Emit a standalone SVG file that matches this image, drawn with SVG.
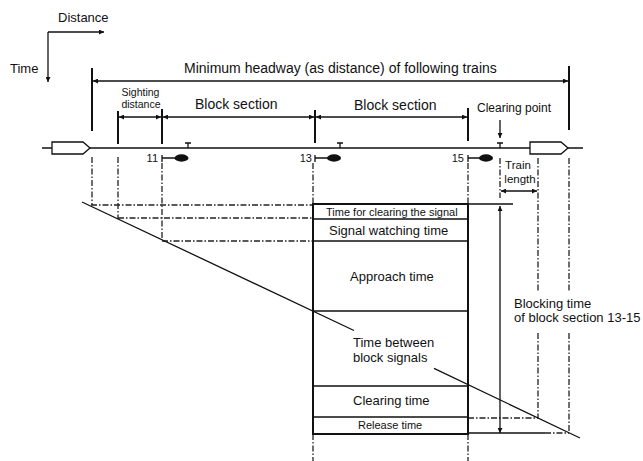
<svg xmlns="http://www.w3.org/2000/svg" width="643" height="461" viewBox="0 0 643 461">
<style>
text{font-family:"Liberation Sans",Arial,sans-serif;fill:#111}
.ln{stroke:#111;stroke-width:1.3;fill:none}
.tk{stroke:#111;stroke-width:2;fill:none}
.dd{stroke:#222;stroke-width:1.3;fill:none;stroke-dasharray:6 2 1.5 2}
.bx{stroke:#111;stroke-width:2;fill:none}
.f14{font-size:14px}.f13{font-size:13px}.f12{font-size:12px}.f11{font-size:11px}.f10{font-size:10.5px}.f115{font-size:11.5px}
</style>
<defs>
<marker id="ah" viewBox="0 0 10 10" refX="10" refY="5" markerWidth="7" markerHeight="5" markerUnits="userSpaceOnUse" orient="auto-start-reverse">
<path d="M0,0L10,5L0,10z" fill="#111"/>
</marker>
</defs>
<rect width="643" height="461" fill="#fff"/>
<g id="axes">
<path class="ln" d="M48,32H104" marker-end="url(#ah)"/>
<path class="ln" d="M48,32V82" marker-end="url(#ah)"/>
<text class="f13" x="58" y="22">Distance</text>
<text class="f13" x="10" y="73">Time</text>
</g>
<g id="track">
<path class="ln" d="M42,148H583"/>
</g>
<g id="train-following">
<polygon points="52,142 83,142 90,148 83,154 52,154" fill="#fff" stroke="#111" stroke-width="1.3"/>
</g>
<g id="train-leading">
<polygon points="530,142 561,142 568,148 561,154 530,154" fill="#fff" stroke="#111" stroke-width="1.3"/>
</g>
<g id="signal-11">
<path class="ln" d="M162,155V162M162,158H176M188,143V148M185,143H191"/>
<ellipse cx="181.5" cy="158" rx="7" ry="3.7" fill="#111"/>
<text class="f11" x="158" y="162" text-anchor="end">11</text>
</g>
<g id="signal-13">
<path class="ln" d="M315,155V162M315,158H328M340,143V148M337,143H343"/>
<ellipse cx="334" cy="158" rx="7" ry="3.7" fill="#111"/>
<text class="f11" x="312" y="162" text-anchor="end">13</text>
</g>
<g id="signal-15">
<path class="ln" d="M468,155V162M468,158H480M500,143V148M497,143H503"/>
<ellipse cx="486" cy="158" rx="7" ry="3.7" fill="#111"/>
<text class="f11" x="464" y="162" text-anchor="end">15</text>
</g>
<g id="dimensions">
<path class="tk" d="M92,68V131M569,66V130"/>
<path class="ln" d="M93,81H568" marker-start="url(#ah)" marker-end="url(#ah)"/>
<text class="f14" x="184" y="73">Minimum headway (as distance) of following trains</text>
<path class="tk" d="M118,111V144M162,109V144M315,110V143M468,108V141"/>
<path class="ln" d="M119,117H161" marker-start="url(#ah)" marker-end="url(#ah)"/>
<path class="ln" d="M163,117H314" marker-start="url(#ah)" marker-end="url(#ah)"/>
<path class="ln" d="M316,117H467" marker-start="url(#ah)" marker-end="url(#ah)"/>
<text class="f10" x="140.5" y="96" text-anchor="middle">Sighting</text>
<text class="f10" x="141" y="108" text-anchor="middle">distance</text>
<text class="f14" x="195" y="109">Block section</text>
<text class="f14" x="354" y="110">Block section</text>
<path class="ln" d="M500,120V138" marker-end="url(#ah)"/>
<text class="f12" x="477" y="112">Clearing point</text>
<path class="ln" d="M501,191H537" marker-start="url(#ah)" marker-end="url(#ah)"/>
<text class="f115" x="518" y="169" text-anchor="middle">Train</text>
<text class="f115" x="520" y="182.5" text-anchor="middle">length</text>
</g>
<g id="connectors">
<path class="dd" d="M92,157V205M118,157V219M162,163V240M313,163V204M468,163V204M500,158V198M538,158V292M569,158V292M538,333V418M569,333V433M313,434V461M468,434V461"/>
<path class="dd" d="M91,205H313M118,218H313M162,241H313M468,418H538"/>
<path class="ln" d="M468,433H545"/>
<path class="dd" d="M545,433H569"/>
<path class="ln" d="M468,204H513"/>
<path class="ln" d="M500,206V433" marker-start="url(#ah)" marker-end="url(#ah)"/>
<path class="ln" d="M82,202L354,330.5M434,368.4L580,438"/>
</g>
<g id="blocking-box">
<rect class="bx" x="313" y="204" width="155" height="230"/>
<path class="ln" d="M313,219H468M313,241H468M313,311H468M313,386H468M313,417H468"/>
<text class="f11" x="326" y="216">Time for clearing the signal</text>
<text class="f13" x="329" y="235">Signal watching time</text>
<text class="f13" x="350" y="281">Approach time</text>
<text class="f13" x="353" y="347">Time between</text>
<text class="f13" x="353" y="362">block signals</text>
<text class="f13" x="353" y="405">Clearing time</text>
<text class="f11" x="358" y="429">Release time</text>
</g>
<g id="blocking-label">
<text class="f13" x="514" y="308">Blocking time</text>
<text class="f13" x="514" y="322">of block section 13-15</text>
</g>
</svg>
